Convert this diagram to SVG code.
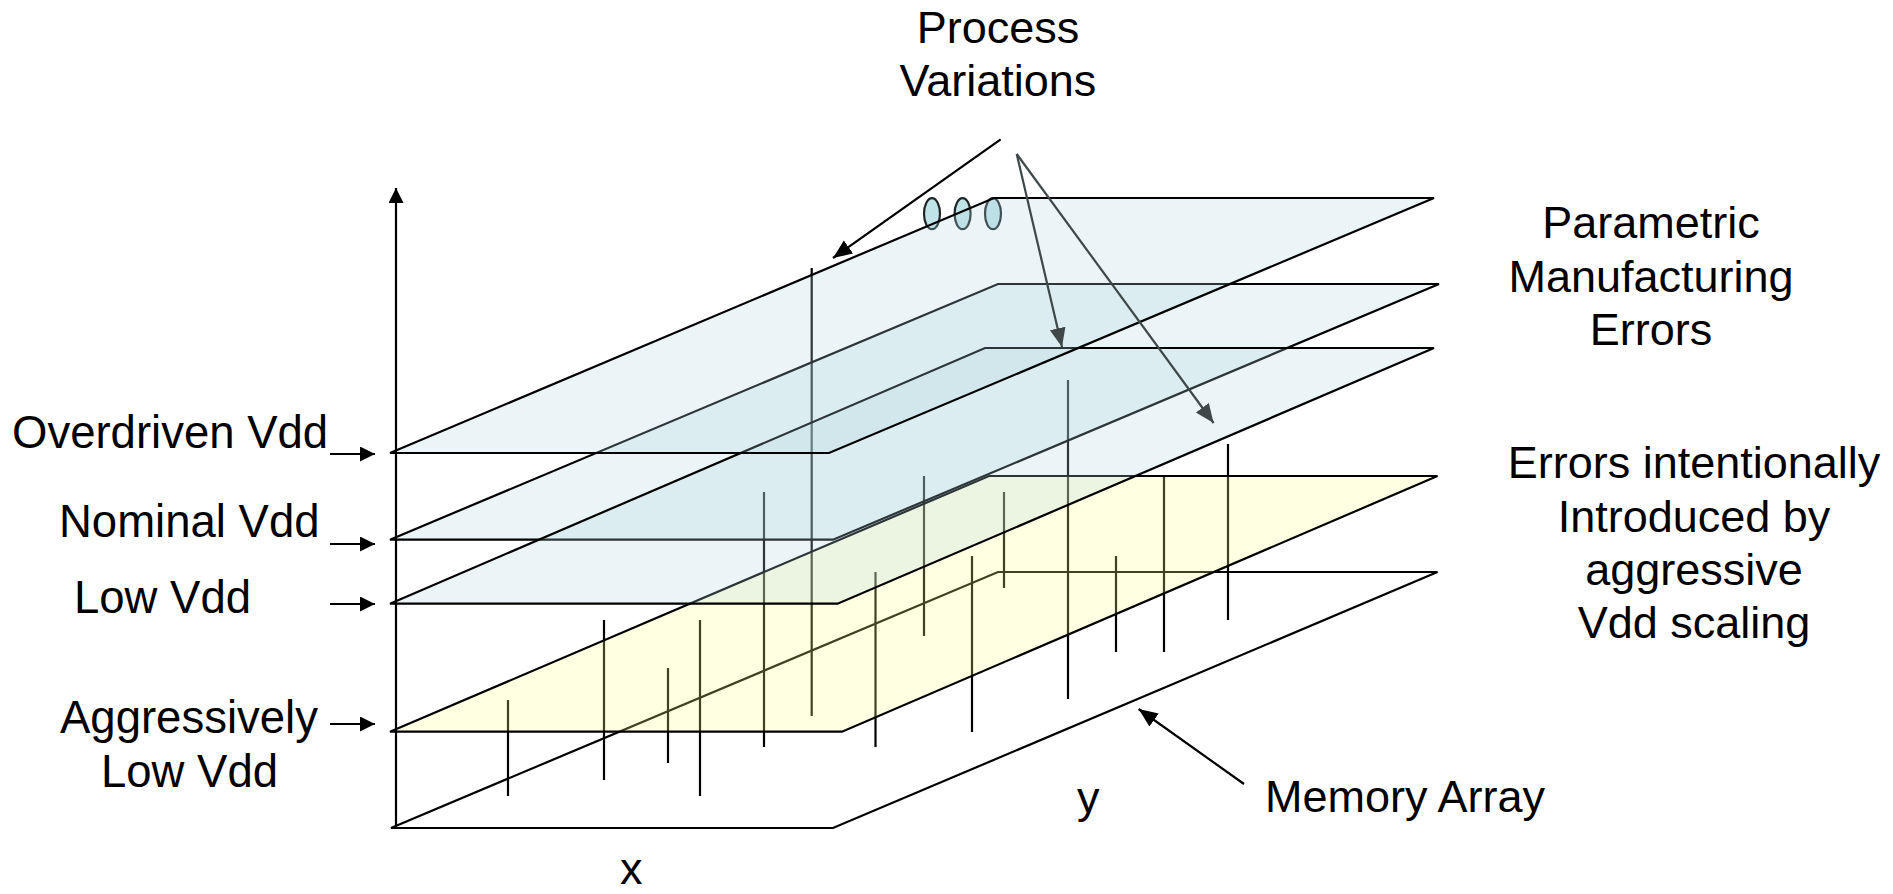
<svg xmlns="http://www.w3.org/2000/svg" width="1893" height="894" viewBox="0 0 1893 894">
<style>
  text { font-family: "Liberation Sans", Arial, sans-serif; font-size: 45px; fill: #000; }
  .lbl { font-size: 45.5px; }
  .mid { text-anchor: middle; }
  .edge { stroke: #000; stroke-width: 2.2; stroke-linejoin: miter; }
  .blue { fill: rgb(175,215,223); fill-opacity: 0.25; }
  .yellow { fill: rgb(255,255,140); fill-opacity: 0.25; }
  .none { fill: none; }
  .err { stroke: #000; stroke-width: 2.2; }
  .arr { stroke: #000; stroke-width: 2.2; fill: none; }
  .arrg { stroke: #3e4848; stroke-width: 2.2; fill: none; }
  .dot { fill: rgb(192,227,231); stroke: #1e2626; stroke-width: 2.2; }
</style>
<defs>
  <marker id="hk" markerUnits="userSpaceOnUse" markerWidth="16" markerHeight="16" refX="15" refY="7.5" orient="auto">
    <path d="M0,0 L15,7.5 L0,15 z" fill="#000"/>
  </marker>
  <marker id="hb" markerUnits="userSpaceOnUse" markerWidth="20" markerHeight="18" refX="19" refY="8" orient="auto">
    <path d="M0,0 L19,8 L0,16 z" fill="#000"/>
  </marker>
  <marker id="hg" markerUnits="userSpaceOnUse" markerWidth="20" markerHeight="18" refX="19" refY="8" orient="auto">
    <path d="M0,0 L19,8 L0,16 z" fill="#3e4848"/>
  </marker>
</defs>
<rect width="1893" height="894" fill="#fff"/>

<g id="memory-array-plane">
  <polygon class="edge none" points="391,828 833,828 1437.5,572 998,572"/>
</g>

<g id="error-bars">
  <line class="err" x1="508" y1="700" x2="508" y2="796"/>
  <line class="err" x1="604" y1="620" x2="604" y2="780"/>
  <line class="err" x1="668" y1="668" x2="668" y2="763"/>
  <line class="err" x1="700" y1="620" x2="700" y2="796"/>
  <line class="err" x1="764" y1="492" x2="764" y2="747"/>
  <line class="err" x1="811.7" y1="268" x2="811.7" y2="716"/>
  <line class="err" x1="875.5" y1="572" x2="875.5" y2="747"/>
  <line class="err" x1="924" y1="476" x2="924" y2="636"/>
  <line class="err" x1="972" y1="556" x2="972" y2="732"/>
  <line class="err" x1="1004" y1="492" x2="1004" y2="588"/>
  <line class="err" x1="1068" y1="380" x2="1068" y2="699"/>
  <line class="err" x1="1116" y1="556" x2="1116" y2="652"/>
  <line class="err" x1="1164" y1="476" x2="1164" y2="652"/>
  <line class="err" x1="1228" y1="444" x2="1228" y2="620"/>
</g>

<g id="aggressive-plane">
  <polygon class="edge yellow" points="390,731.7 842,731.7 1437.5,476 989,476"/>
</g>
<g id="nominal-plane">
  <polygon class="edge blue" points="390,539.7 833,539.7 1439,284 998,284"/>
</g>
<g id="low-plane">
  <polygon class="edge blue" points="390,603.7 837.6,603.7 1434,348 985,348"/>
</g>
<g id="variation-dots">
  <ellipse class="dot" cx="932" cy="213.7" rx="8" ry="15.5"/>
  <ellipse class="dot" cx="962.6" cy="213.7" rx="8" ry="15.5"/>
  <ellipse class="dot" cx="993" cy="213.7" rx="8" ry="15.5"/>
</g>
<g id="overdriven-plane">
  <polygon class="edge blue" points="390,453 829,453 1434,198 994,198"/>
</g>

<g id="axes">
  <line class="arr" x1="396" y1="829" x2="396" y2="188" marker-end="url(#hk)"/>
</g>

<g id="connectors">
  <line class="arr" x1="330" y1="454" x2="375" y2="454" marker-end="url(#hk)"/>
  <line class="arr" x1="330" y1="544" x2="375" y2="544" marker-end="url(#hk)"/>
  <line class="arr" x1="330" y1="604" x2="375" y2="604" marker-end="url(#hk)"/>
  <line class="arr" x1="330" y1="724" x2="375" y2="724" marker-end="url(#hk)"/>
  <line class="arr" x1="1000.7" y1="139.3" x2="833" y2="258" marker-end="url(#hb)"/>
  <line class="arrg" x1="1016.7" y1="154" x2="1062" y2="347" marker-end="url(#hg)"/>
  <line class="arrg" x1="1016.7" y1="154" x2="1213.6" y2="423" marker-end="url(#hg)"/>
  <line class="arr" x1="1244" y1="784" x2="1138.6" y2="709" marker-end="url(#hb)"/>
</g>

<g id="label-process-variations">
  <text class="mid" x="998" y="43.3">Process</text>
  <text class="mid" x="998" y="96">Variations</text>
</g>
<g id="label-parametric">
  <text class="mid" x="1651" y="237.7">Parametric</text>
  <text class="mid" x="1651" y="291.7">Manufacturing</text>
  <text class="mid" x="1651" y="345">Errors</text>
</g>
<g id="label-intentional">
  <text class="mid" x="1694" y="478.3">Errors intentionally</text>
  <text class="mid" x="1694" y="531.7">Introduced by</text>
  <text class="mid" x="1694" y="585">aggressive</text>
  <text class="mid" x="1694" y="638">Vdd scaling</text>
</g>
<g id="label-overdriven">
  <text class="lbl" x="12" y="447.7">Overdriven Vdd</text>
</g>
<g id="label-nominal">
  <text class="lbl" x="59" y="536.7">Nominal Vdd</text>
</g>
<g id="label-low">
  <text class="lbl" x="74" y="613">Low Vdd</text>
</g>
<g id="label-aggressive">
  <text class="lbl" x="60" y="732.7">Aggressively</text>
  <text class="lbl" x="101" y="786.7">Low Vdd</text>
</g>
<g id="label-memory-array">
  <text x="1265" y="811.7">Memory Array</text>
</g>
<g id="label-y">
  <text x="1077" y="813">y</text>
</g>
<g id="label-x">
  <text x="620" y="884">x</text>
</g>
</svg>
